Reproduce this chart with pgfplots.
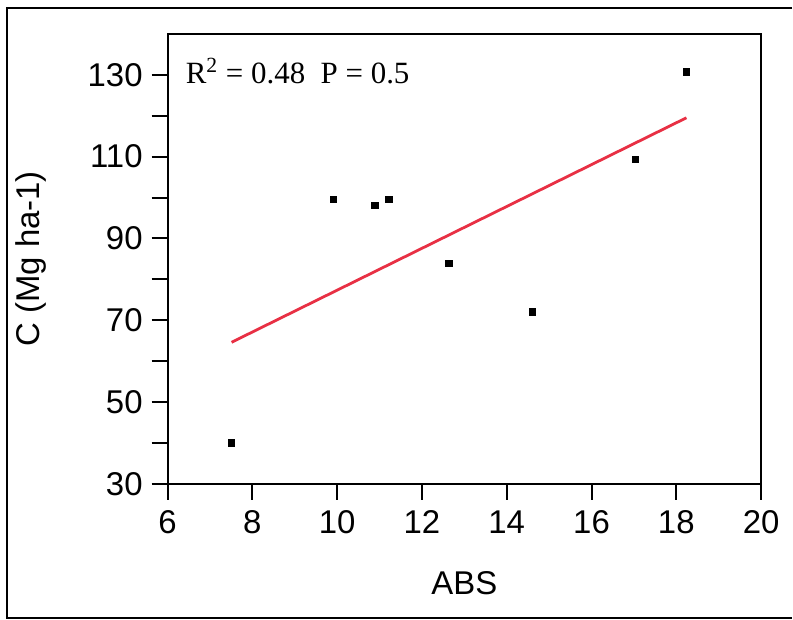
\documentclass[border=0pt]{standalone}
\usepackage{fontspec}
\setmainfont{Liberation Sans}
\newfontfamily\timesfont{Liberation Serif}
\usepackage{pgfplots}
\pgfplotsset{compat=1.18}
\definecolor{fitred}{RGB}{232,48,68}

\begin{document}
\begin{tikzpicture}
\begin{axis}[
    at={(0pt,0pt)}, anchor=south west,
    width=297.5pt, height=225.5pt,
    scale only axis,
    xmin=6, xmax=20,
    ymin=30, ymax=140,
    xtick={6,8,...,20},
    ytick={30,50,...,130},
    minor ytick={40,60,...,120},
    tick align=outside,
    xtick pos=bottom, ytick pos=left,
    major tick length=8pt, minor tick length=8pt,
    every tick/.style={black, line width=1pt},
    axis line style={line width=1pt},
    tick label style={font=\fontsize{16.5}{18}\selectfont},
    label style={font=\fontsize{16.5}{18}\selectfont},
    /pgf/number format/assume math mode=true,
    xticklabel style={yshift=-2pt},
    yticklabel style={xshift=-1pt},
    xlabel={ABS},
    ylabel={C (Mg ha-1)},
    xlabel style={yshift=-12pt},
    ylabel style={yshift=14pt},
    clip=false,
]
\addplot[only marks, mark=square*, mark size=1.6pt, black] coordinates {
(7.51,40.0)(9.91,99.5)(10.89,98.0)(11.22,99.5)(12.64,83.9)(14.61,72.0)(17.04,109.3)(18.24,130.7)
};
\addplot[fitred, line width=1.4pt, no marks] coordinates {(7.51,64.6)(18.24,119.5)};
\node[anchor=base west, inner sep=0pt, font=\timesfont\fontsize{15.5}{17}\selectfont]
  at (rel axis cs:0.03,0.89) {R\textsuperscript{2} = 0.48\ \ P = 0.5};
\end{axis}
\draw[line width=1pt] (313pt,238.5pt) -- (-80.5pt,238.5pt) -- (-80.5pt,-67.5pt) -- (313pt,-67.5pt);
\useasboundingbox (-84pt,-68pt) rectangle (312.5pt,242.5pt);
\end{tikzpicture}
\end{document}
